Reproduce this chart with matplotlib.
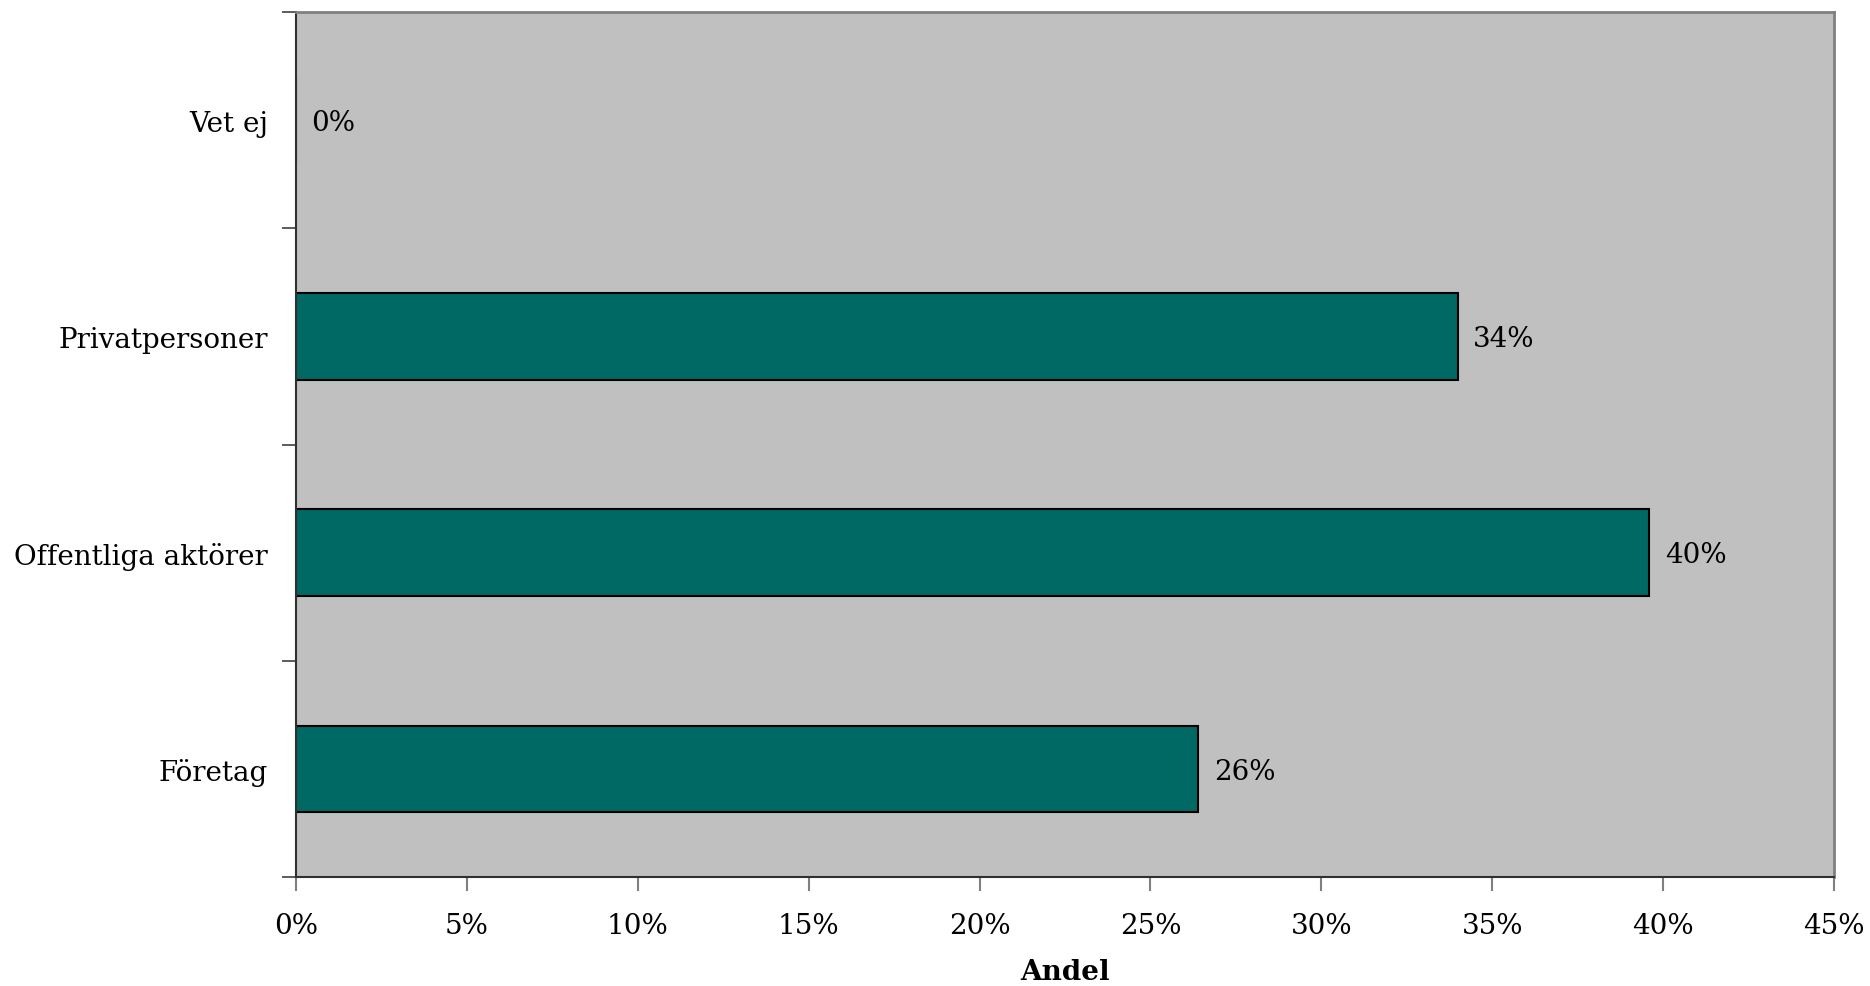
import matplotlib.pyplot as plt
import numpy as np

categories = ["Företag", "Offentliga aktörer", "Privatpersoner", "Vet ej"]
andel = [26.4, 39.6, 34.0, 0.0]
tick_values = [0, 5, 10, 15, 20, 25, 30, 35, 40, 45]

plt.rcParams['font.family'] = ['DejaVu Serif']

fig = plt.figure(figsize=(18.7, 9.87), dpi=100)
ax = fig.add_axes([0.1583, 0.1104, 0.8224, 0.8764])
ax.set_facecolor('#C0C0C0')

pos = np.arange(len(categories))
ax.barh(pos, andel, height=0.4, color='#006963', edgecolor='black', linewidth=1.5)

# value labels to the right of each bar
for y, v in zip(pos, andel):
    ax.text(v + 0.45, y - 0.01, f"{v:.0f}%", va='center', ha='left', fontsize=20)

ax.set_xlim(0, 45)
ax.set_ylim(-0.5, len(categories) - 0.5)
ax.set_xticks(tick_values)
ax.set_xticklabels([f"{t}%" for t in tick_values], fontsize=20)
ax.set_yticks(pos)
ax.set_yticklabels(categories, fontsize=20)
ax.tick_params(axis='y', length=0, pad=20)
ax.set_yticks(np.arange(-0.5, len(categories)), minor=True)
ax.tick_params(axis='y', which='minor', length=10, width=1.2, color='#404040')
ax.tick_params(axis='x', length=10, width=1.5, color='#808080', pad=15)

ax.set_xlabel("Andel", fontsize=20, fontweight='bold', labelpad=14)

for s in ['left', 'bottom']:
    ax.spines[s].set_color('#303030')
    ax.spines[s].set_linewidth(1.5)
for s in ['top', 'right']:
    ax.spines[s].set_color('#808080')
    ax.spines[s].set_linewidth(2)

fig.savefig("out.png", dpi=100)
